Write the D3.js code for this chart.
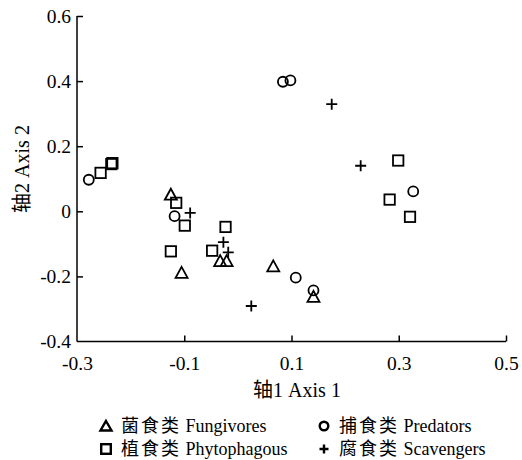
<!DOCTYPE html>
<html>
<head>
<meta charset="utf-8">
<script src="https://cdn.jsdelivr.net/npm/d3@7"></script>
<style>
  body { margin: 0; background: #fff; }
  text { font-family: "Liberation Serif", "Noto Sans CJK SC", serif; fill: #000; }
</style>
</head>
<body>
<script>
(function(){

    // Data (axis 1, axis 2)
    var fungivores = [[-0.125, 0.051], [-0.105, -0.189], [-0.033, -0.153], [-0.021, -0.153], [0.066, -0.169], [0.141, -0.263]];
    var predators = [[-0.278, 0.097], [-0.118, -0.015], [0.084, 0.398], [0.098, 0.402], [0.108, -0.204], [0.141, -0.243], [0.327, 0.061]];
    var phytophagous = [[-0.256, 0.118], [-0.236, 0.145], [-0.234, 0.148], [-0.115, 0.026], [-0.099, -0.044], [-0.125, -0.123],
        [-0.023, -0.048], [-0.048, -0.121], [0.299, 0.156], [0.283, 0.036], [0.321, -0.017]];
    var scavengers = [[-0.089, -0.005], [-0.027, -0.095], [-0.018, -0.126], [0.025, -0.291], [0.175, 0.329], [0.229, 0.140]];

    var xTicks = [-0.3, -0.1, 0.1, 0.3, 0.5];
    var yTicks = [-0.4, -0.2, 0, 0.2, 0.4, 0.6];
    var seriesCn = ["菌食类", "捕食类", "植食类", "腐食类"];
    var seriesEn = ["Fungivores", "Predators", "Phytophagous", "Scavengers"];

    window.onload = setChart;

    // plain hyphen instead of the unicode minus d3 uses
    function fmt(d){
        if (d === 0) return "0";
        return d3.format(".1f")(d).replace("\u2212", "-");
    }

    function setChart(){
        var width = 522, height = 460;

        var svg = d3.select("body")
            .append("svg")
            .attr("width", width)
            .attr("height", height);

        var x = d3.scaleLinear().domain([-0.3, 0.5]).range([77, 506]);
        var y = d3.scaleLinear().domain([-0.4, 0.6]).range([341.5, 16]);

        var xAxis = d3.axisBottom(x)
            .tickValues(xTicks)
            .tickSize(-6)
            .tickPadding(15)
            .tickFormat(fmt);

        var yAxis = d3.axisLeft(y)
            .tickValues(yTicks)
            .tickSize(-6)
            .tickPadding(6)
            .tickFormat(fmt);

        var gx = svg.append("g")
            .attr("transform", "translate(0," + y(-0.4) + ")")
            .call(xAxis);

        var gy = svg.append("g")
            .attr("transform", "translate(" + x(-0.3) + ",0)")
            .call(yAxis);

        [gx, gy].forEach(function(g){
            g.select(".domain").attr("stroke", "#000").attr("stroke-width", 1.5)
                .attr("d", g === gx ? "M" + x(-0.3) + ",0H" + x(0.5) : "M0," + y(-0.4) + "V" + y(0.6));
            g.selectAll(".tick line").attr("stroke", "#000").attr("stroke-width", 1.5);
            g.selectAll(".tick text")
                .style("font-family", "'Liberation Serif', serif")
                .style("font-size", "19.5px");
        });
        gx.selectAll(".tick").filter(function(d){ return d === -0.3; }).select("line").remove();
        gy.selectAll(".tick").filter(function(d){ return d === -0.4; }).select("line").remove();

        svg.append("text")
            .attr("x", 297)
            .attr("y", 397)
            .attr("text-anchor", "middle")
            .style("font-size", "20px")
            .text("轴1 Axis 1");

        svg.append("text")
            .attr("transform", "translate(29,169) rotate(-90)")
            .attr("text-anchor", "middle")
            .style("font-size", "20px")
            .text("轴2 Axis 2");

        var plot = svg.append("g");

        var groups = [
            {data: fungivores, shape: "tri"},
            {data: predators, shape: "circle"},
            {data: phytophagous, shape: "square"},
            {data: scavengers, shape: "plus"}
        ];

        groups.forEach(function(gr){
            var pts = plot.selectAll(null)
                .data(gr.data)
                .enter()
                .append("g")
                .attr("transform", function(d){ return "translate(" + x(d[0]) + "," + y(d[1]) + ")"; });
            var mark;
            if (gr.shape === "plus"){
                mark = pts.append("path").attr("d", "M-5.5,0H5.5M0,-5.5V5.5");
            } else if (gr.shape === "tri"){
                mark = pts.append("path").attr("d", "M0,-6L6,5H-6Z");
            } else if (gr.shape === "circle"){
                mark = pts.append("circle").attr("r", 5);
            } else {
                mark = pts.append("rect").attr("x", -5.2).attr("y", -5.2).attr("width", 10.4).attr("height", 10.4);
            }
            mark.attr("fill", "none")
                .attr("stroke", "#000")
                .attr("stroke-width", 1.8);
        });

        // Legend
        var legendPos = [[106, 426], [324, 426], [106, 449], [324, 449]];
        var legend = svg.append("g");
        legendPos.forEach(function(p, i){
            var g = legend.append("g").attr("transform", "translate(" + p[0] + "," + p[1] + ")");
            var m;
            if (i === 0){
                m = g.append("path").attr("d", "M0,-5L5.5,4.5H-5.5Z");
            } else if (i === 1){
                m = g.append("circle").attr("r", 4.3);
            } else if (i === 2){
                m = g.append("rect").attr("x", -4.8).attr("y", -4.8).attr("width", 9.6).attr("height", 9.6);
            } else {
                m = g.append("path").attr("d", "M-4.5,0H4.5M0,-4.5V4.5");
            }
            m.attr("fill", "none").attr("stroke", "#000").attr("stroke-width", 2.4);
            var t = g.append("text")
                .attr("x", 15)
                .attr("y", 5.5)
                .style("font-size", "18px");
            t.append("tspan").style("letter-spacing", "2px").text(seriesCn[i]);
            t.append("tspan").text(" " + seriesEn[i]);
        });
    }

})();
</script>
</body>
</html>
